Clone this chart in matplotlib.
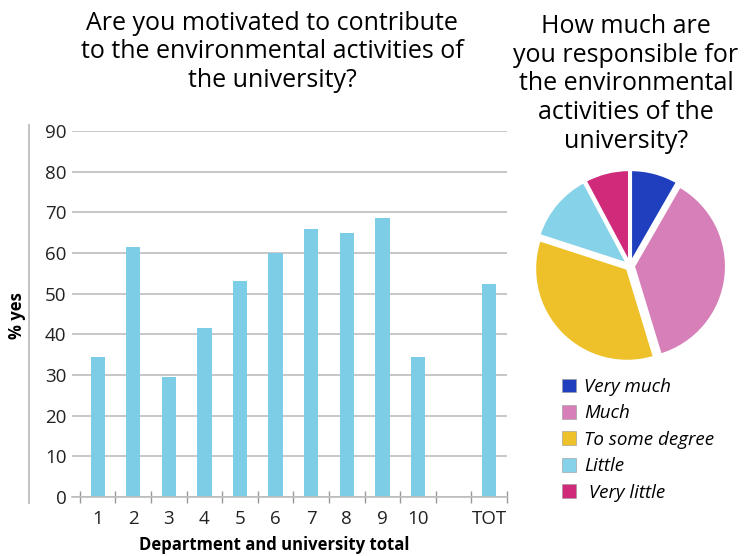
import matplotlib.pyplot as plt
import numpy as np

plt.rcParams["font.family"] = ["Open Sans", "DejaVu Sans"]

# bar chart: % yes per department and university total
departments = ["1", "2", "3", "4", "5", "6", "7", "8", "9", "10", "", "TOT"]
pct_yes = [34.5, 61.5, 29.5, 41.5, 53.0, 60.0, 66.0, 65.0, 68.5, 34.5, np.nan, 52.5]

# pie chart: responsibility
resp_labels = ["Very much", "Much", "To some degree", "Little", " Very little"]
resp_share = [8.3, 37.0, 34.7, 12.2, 7.8]
resp_colors = ["#1f3fbf", "#d77fb8", "#eec12a", "#86d2e8", "#d02a7a"]

BAR_COLOR = "#7ecde6"
GRID_COLOR = "#bdbdbd"


def main() -> None:
    fig = plt.figure(figsize=(7.44, 5.56), dpi=100)

    # Plot 1: bars
    ax = fig.add_axes([72 / 744, 1 - 497 / 556, (507 - 72) / 744, (497 - 131) / 556])
    centers = np.arange(len(departments)) + 0.5
    ax.bar(centers, pct_yes, width=0.4, color=BAR_COLOR, zorder=2)
    ax.set_xlim(-0.22, 12)
    ax.set_ylim(0, 90)
    ax.set_yticks(range(0, 91, 10))
    ax.yaxis.grid(True, color=GRID_COLOR, linewidth=1.2, zorder=0)
    ax.set_axisbelow(True)
    for side in ["top", "right", "left"]:
        ax.spines[side].set_visible(False)
    ax.spines["bottom"].set_color(GRID_COLOR)
    ax.spines["bottom"].set_linewidth(1.2)
    ax.tick_params(axis="y", length=0, labelsize=13.5, pad=4, labelcolor="#222222")
    ax.set_xticks(range(13))
    ax.set_xticklabels([])
    ax.tick_params(axis="x", which="major", direction="inout", length=9,
                   color="#999999", width=1)
    ax.set_xticks(centers, minor=True)
    ax.set_xticklabels(departments, minor=True, fontsize=13.5, color="#222222")
    ax.tick_params(axis="x", which="minor", length=0, pad=9)
    ax.plot([-1.42, -1.42], [-1.5, 91.5], color=GRID_COLOR, linewidth=1.3,
            clip_on=False)
    fig.text(274 / 744, 1 - 545 / 556, "Department and university total",
             ha="center", va="center", fontsize=12, fontweight="bold")
    fig.text(17 / 744, 1 - 316 / 556, "% yes", rotation=90,
             ha="center", va="center", fontsize=12, fontweight="bold")
    fig.text(272 / 744, 1 - 52 / 556,
             "Are you motivated to contribute\nto the environmental activities of\nthe university?",
             ha="center", va="center", fontsize=18, linespacing=1.2)

    # Plot 2: pie
    pax = fig.add_axes([(630 - 100) / 744, 1 - (266 + 100) / 556, 200 / 744, 200 / 556])
    pax.pie(resp_share, colors=resp_colors, startangle=90, counterclock=False,
            explode=[0.04] * 5, radius=0.92,
            wedgeprops={"edgecolor": "white", "linewidth": 1.5})
    pax.set_xlim(-1, 1)
    pax.set_ylim(-1, 1)
    pax.set_aspect("equal")
    fig.text(626 / 744, 1 - 84 / 556,
             "How much are\nyou responsible for\nthe environmental\nactivities of the\nuniversity?",
             ha="center", va="center", fontsize=18, linespacing=1.2)

    handles = [plt.Rectangle((0, 0), 1, 1, facecolor=c, edgecolor="#999999", linewidth=0.4)
               for c in resp_colors]
    fig.legend(handles, resp_labels, loc="upper left",
               bbox_to_anchor=(562 / 744, 1 - 378 / 556), frameon=False,
               prop={"style": "italic", "size": 13.5}, handlelength=0.75,
               handleheight=0.75, handletextpad=0.45, labelspacing=0.45,
               borderaxespad=0, borderpad=0)

    plt.savefig("out.png", dpi=100)
    plt.close()


if __name__ == "__main__":
    main()
